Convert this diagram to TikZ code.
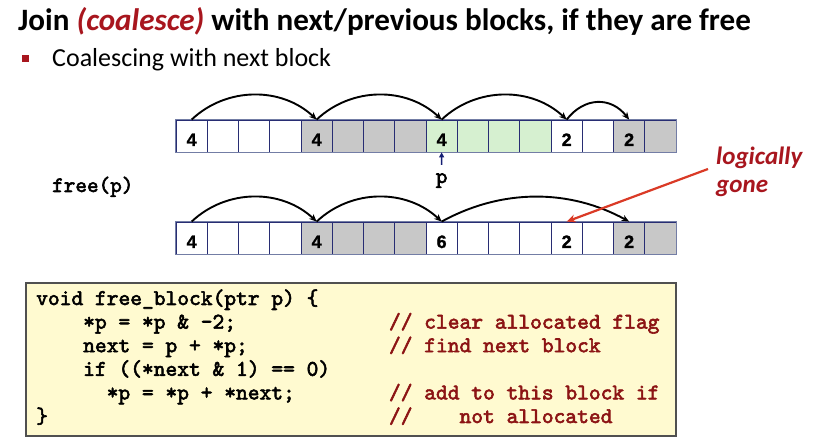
\documentclass[tikz,border=0pt]{standalone}
\usepackage{fontspec}
\setmainfont{Carlito}
\newfontfamily\numfont{Liberation Sans}[FakeBold=1.2]
\newfontfamily\codefont{lmmono10-regular.otf}[FakeBold=2.6]
\usetikzlibrary{arrows.meta}

\definecolor{titlered}{RGB}{168,22,30}
\definecolor{codered}{RGB}{140,20,20}
\definecolor{pointerred}{RGB}{218,58,38}
\definecolor{cellgray}{RGB}{200,200,200}
\definecolor{cellgreen}{RGB}{214,240,208}
\definecolor{cellline}{RGB}{40,45,115}
\definecolor{cellouter}{RGB}{115,125,165}
\definecolor{codebg}{RGB}{255,250,208}
\definecolor{boxgray}{RGB}{80,80,80}
\definecolor{navy}{RGB}{20,30,115}

\tikzset{
  cell/.style={draw=cellline, line width=0.8pt, minimum width=31.25pt,
    minimum height=32pt, inner sep=0pt, text height=20pt, text depth=0pt,
    font=\numfont\bfseries\fontsize{18}{19}\selectfont},
  heaprow/.style={draw=cellouter, line width=1pt},
  link/.style={line width=1.9pt, -{Stealth[length=7.5pt,width=6.5pt]}},
  codeline/.style={anchor=base west, inner sep=0pt,
    font=\codefont\fontsize{22.4}{23}\selectfont},
  comment/.style={codeline, text=codered},
  mono/.style={inner sep=0pt, anchor=base,
    font=\codefont\fontsize{22.1}{23}\selectfont},
  note/.style={anchor=base west, inner sep=0pt, text=titlered,
    font=\bfseries\itshape\fontsize{25}{25}\selectfont},
}

\begin{document}
\begin{tikzpicture}[x=1pt,y=1pt]
\useasboundingbox (0,0) rectangle (814,-443);
\fill[white] (0,0) rectangle (814,-443);

% heading and bullet
\node[anchor=base west, inner sep=0pt, font=\bfseries\fontsize{31.1}{32}\selectfont] (title) at (18,-31)
  {Join \textcolor{titlered}{\itshape(coalesce)} with next/previous blocks, if they are free};
\node[fill=titlered, minimum size=7pt, inner sep=0pt] (bullet) at (25.5,-58.5) {};
\node[anchor=base west, inner sep=0pt, font=\fontsize{26}{27}\selectfont] (sub) at (52,-67)
  {Coalescing with next block};

% heap before free
\foreach \i/\fc/\num in {0/white/4,1/white/{},2/white/{},3/white/{},
    4/cellgray/4,5/cellgray/{},6/cellgray/{},7/cellgray/{},
    8/cellgreen/4,9/cellgreen/{},10/cellgreen/{},11/cellgreen/{},
    12/white/2,13/white/{},14/cellgray/2,15/cellgray/{}}
  \node[cell, fill=\fc] (r1c\i) at ({191.625+31.25*\i},-136) {\num};
\draw[heaprow] (r1c0.north west) rectangle (r1c15.south east);

\draw[link] (r1c0.north) .. controls +(35,33) and +(-35,33) .. (r1c4.north);
\draw[link] (r1c4.north) .. controls +(35,33) and +(-35,33) .. (r1c8.north);
\draw[link] (r1c8.north) .. controls +(35,33) and +(-35,33) .. (r1c12.north);
\draw[link] (r1c12.north) .. controls +(18,23) and +(-18,23) .. (r1c14.north);

% pointer p
\node[mono] (plabel) at (441.6,-183) {p};
\coordinate (ptail) at (441.6,-165);
\draw[navy, line width=1.4pt, -{Triangle[length=5pt,width=5pt]}] (ptail) -- (r1c8.south);

\node[mono, anchor=base west] (freecall) at (52,-192) {free(p)};

% heap after free
\foreach \i/\fc/\num in {0/white/4,1/white/{},2/white/{},3/white/{},
    4/cellgray/4,5/cellgray/{},6/cellgray/{},7/cellgray/{},
    8/white/6,9/white/{},10/white/{},11/white/{},
    12/white/2,13/white/{},14/cellgray/2,15/cellgray/{}}
  \node[cell, fill=\fc] (r2c\i) at ({191.625+31.25*\i},-238) {\num};
\draw[heaprow] (r2c0.north west) rectangle (r2c15.south east);

\draw[link] (r2c0.north) .. controls +(35,33) and +(-35,33) .. (r2c4.north);
\draw[link] (r2c4.north) .. controls +(35,33) and +(-35,33) .. (r2c8.north);
\draw[link] (r2c8.north) .. controls +(60,33) and +(-60,33) .. (r2c14.north);

% stale header note
\node[note] (logic) at (716,-165) {logically};
\node[note] (gone) at (716,-193) {gone};
\coordinate (notetail) at (708,-169);
\draw[pointerred, line width=2.2pt, -{Stealth[length=9pt,width=8pt]}] (notetail) -- (r2c12.north);

% code listing
\node[draw=boxgray, fill=codebg, line width=1.6pt, minimum width=650pt,
  minimum height=153pt, inner sep=0pt] (codebox) at (351,-359.5) {};
\node[codeline] (l1) at (36,-305) {void free\_block(ptr p) \{};
\node[codeline] (l2) at (83,-328.6) {*p = *p \& -2;};
\node[codeline] (l3) at (83,-352.2) {next = p + *p;};
\node[codeline] (l4) at (83,-375.8) {if ((*next \& 1) == 0)};
\node[codeline] (l5) at (106.5,-399.4) {*p = *p + *next;};
\node[codeline] (l6) at (36,-423) {\}};
\node[comment] (c2) at (388.8,-328.6) {// clear allocated flag};
\node[comment] (c3) at (388.8,-352.2) {// find next block};
\node[comment] (c5) at (388.8,-399.4) {// add to this block if};
\node[comment] (c6) at (388.8,-423) {//\phantom{xxxx}not allocated};
\end{tikzpicture}
\end{document}
